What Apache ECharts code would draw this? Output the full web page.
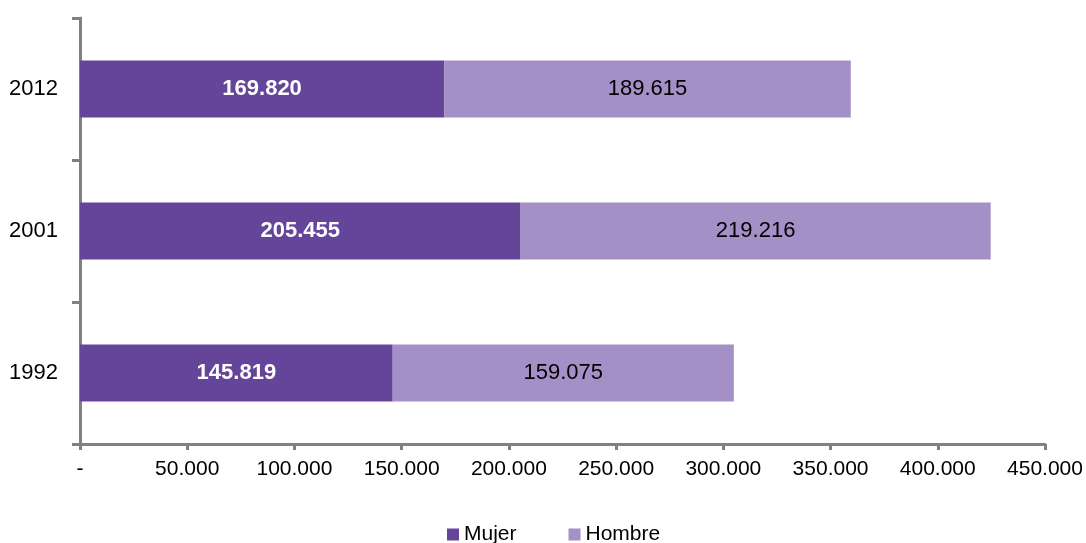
<!DOCTYPE html>
<html>
<head>
<meta charset="utf-8">
<script src="https://cdn.jsdelivr.net/npm/echarts@6/dist/echarts.min.js"></script>
<style>
  html, body { margin: 0; padding: 0; background: #fff; }
  #chart { width: 1086px; height: 543px; }
</style>
</head>
<body>
<div id="chart"></div>
<script>
// datos
const years = ["1992", "2001", "2012"];
const mujer = [145819, 205455, 169820];
const hombre = [159075, 219216, 189615];
const seriesNames = ["Mujer", "Hombre"];

const chart = echarts.init(document.getElementById("chart"));

// formato con punto de miles
const fmt = (v) => (v === 0 ? "-" : v.toLocaleString("de-DE"));

const font = "Liberation Sans, Arial, sans-serif";
const axisGray = "#808080";

chart.setOption({
  animation: false,
  textStyle: { fontFamily: font },
  grid: { left: 80, right: 41, top: 18, bottom: 99 },
  legend: {
    bottom: -7,
    left: 442,
    itemWidth: 12,
    itemHeight: 12,
    itemGap: 52,
    icon: "rect",
    textStyle: { fontSize: 21, color: "#000", fontFamily: font },
    data: seriesNames,
  },
  xAxis: {
    type: "value",
    min: 0,
    max: 450000,
    interval: 50000,
    splitLine: { show: false },
    axisLine: { show: true, lineStyle: { color: axisGray, width: 3 } },
    axisTick: { show: true, length: 6, lineStyle: { color: axisGray, width: 3 } },
    axisLabel: {
      color: "#000",
      fontSize: 21,
      margin: 15,
      formatter: fmt,
      // el guion del cero queda un poco a la izquierda
      padding: [0, 0, 0, 0],
    },
  },
  yAxis: {
    type: "category",
    data: years,
    axisLine: { show: true, lineStyle: { color: axisGray, width: 3 } },
    axisTick: { show: true, length: 8, lineStyle: { color: axisGray, width: 3 } },
    axisLabel: { color: "#000", fontSize: 22, margin: 22 },
  },
  series: [
    {
      name: seriesNames[0],
      type: "bar",
      stack: "total",
      data: mujer,
      barWidth: 57,
      itemStyle: { color: "#65459a" },
      label: {
        show: true,
        position: "inside",
        color: "#fff",
        fontWeight: "bold",
        fontSize: 22,
        formatter: (p) => fmt(p.value),
      },
    },
    {
      name: seriesNames[1],
      type: "bar",
      stack: "total",
      data: hombre,
      barWidth: 57,
      itemStyle: { color: "#a48fc6" },
      label: {
        show: true,
        position: "inside",
        color: "#000",
        fontSize: 22,
        formatter: (p) => fmt(p.value),
      },
    },
  ],
});
</script>
</body>
</html>
